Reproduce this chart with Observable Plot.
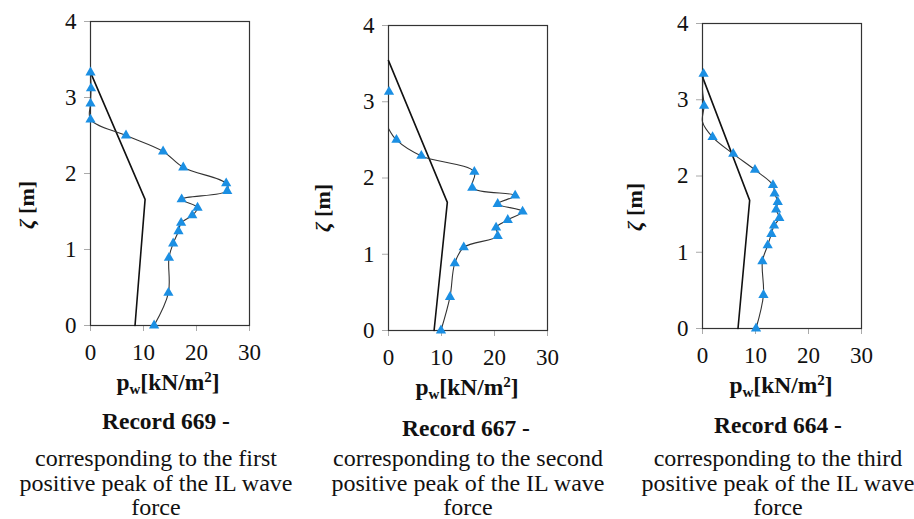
<!DOCTYPE html>
<html>
<head>
<meta charset="utf-8">
<script src="https://cdn.jsdelivr.net/npm/d3@7"></script>
<script src="https://cdn.jsdelivr.net/npm/@observablehq/plot@0.6"></script>
<style>
  html, body { margin: 0; padding: 0; background: #fff; }
  #root { position: relative; width: 914px; height: 519px; overflow: hidden; font-family: "Liberation Serif", "Times New Roman", serif; color: #111; }
  .abs { position: absolute; }
  .ctr { transform: translate(-50%, -50%); white-space: nowrap; text-align: center; }
  .xl { font-size: 23.5px; font-weight: bold; }
  .rec { font-size: 23.5px; font-weight: bold; }
  .cap { font-size: 24px; line-height: 20px; text-align: center; white-space: nowrap; transform: translateX(-50%); }
  .yl { font-size: 22px; font-weight: bold; transform: translate(-50%, -50%) rotate(-90deg); white-space: nowrap; }
  svg, svg text { font-family: "Liberation Serif", "Times New Roman", serif !important; }
</style>
</head>
<body>
<div id="root"></div>
<script>
// ---- Data ----
const xTicks = [0, 10, 20, 30];
const yTicks = [0, 1, 2, 3, 4];

// Record 669 measured pressures
const rec669_z  = [3.33, 3.12, 2.92, 2.71, 2.50, 2.29, 2.08, 1.87, 1.77, 1.66, 1.55, 1.45, 1.35, 1.24, 1.08, 0.89, 0.43, 0];
const rec669_pw = [0, 0.1, 0, 0, 6.7, 13.7, 17.5, 25.6, 25.8, 17.2, 20.2, 19.2, 17.1, 16.6, 15.6, 14.8, 14.7, 12.0];
const rec669_mark = [1,1,1,1,1,1,1,1,1,1,1,1,1,1,1,1,1,1];
const rec669_line = [1,1,1,1,1,1,1,1,1,1,1,1,1,1,1,1,1,1];
// design profile 669
const des669_z  = [3.33, 1.66, 0];
const des669_pw = [0, 10.3, 8.4];

// Record 667 measured pressures
const rec667_z  = [3.13, 2.65, 2.50, 2.29, 2.08, 1.87, 1.77, 1.66, 1.56, 1.45, 1.35, 1.24, 1.09, 0.88, 0.44, 0];
const rec667_pw = [0.1, 0, 1.5, 6.2, 16.2, 15.8, 23.9, 20.6, 25.3, 22.5, 20.3, 20.6, 14.2, 12.5, 11.6, 9.9];
const rec667_mark = [1,0,1,1,1,1,1,1,1,1,1,1,1,1,1,1];
const rec667_line = [0,1,1,1,1,1,1,1,1,1,1,1,1,1,1,1];
const des667_z  = [3.54, 1.68, 0];
const des667_pw = [0, 11.1, 8.6];

// Record 664 measured pressures
const rec664_z  = [3.34, 3.13, 2.92, 2.71, 2.51, 2.29, 2.08, 1.88, 1.77, 1.66, 1.56, 1.45, 1.35, 1.24, 1.09, 0.88, 0.44, 0];
const rec664_pw = [0.2, 0, 0.3, 0, 1.9, 5.8, 9.9, 13.3, 13.6, 14.2, 13.9, 14.5, 13.5, 13.0, 12.3, 11.3, 11.5, 10.1];
const rec664_mark = [1,0,1,0,1,1,1,1,1,1,1,1,1,1,1,1,1,1];
const rec664_line = [1,1,1,1,1,1,1,1,1,1,1,1,1,1,1,1,1,1];
const des664_z  = [3.30, 1.68, 0];
const des664_pw = [0, 8.9, 6.7];

const panels = [
  { rec: "Record 669 -", cap: ["corresponding to the first", "positive peak of the IL wave", "force"],
    z: rec669_z, pw: rec669_pw, mark: rec669_mark, line: rec669_line, dz: des669_z, dpw: des669_pw,
    L: 90, T: 21, B: 325, xl: [168, 383], rc: [166, 421], cp: 156, yl: [27, 205] },
  { rec: "Record 667 -", cap: ["corresponding to the second", "positive peak of the IL wave", "force"],
    z: rec667_z, pw: rec667_pw, mark: rec667_mark, line: rec667_line, dz: des667_z, dpw: des667_pw,
    L: 388, T: 25, B: 330, xl: [467, 388], rc: [466, 428], cp: 468, yl: [323, 208] },
  { rec: "Record 664 -", cap: ["corresponding to the third", "positive peak of the IL wave", "force"],
    z: rec664_z, pw: rec664_pw, mark: rec664_mark, line: rec664_line, dz: des664_z, dpw: des664_pw,
    L: 702, T: 23, B: 328, xl: [781, 386], rc: [778, 425], cp: 778, yl: [635, 207] }
];

const root = document.getElementById("root");
const frameW = 159;
const mL = 90, mR = 51, mT = 21, mB = 50;
const capTops = [448, 473, 497];
const serif = "Liberation Serif";

function addDiv(cls, html, x, y) {
  const d = document.createElement("div");
  d.className = "abs " + cls;
  d.innerHTML = html;
  d.style.left = x + "px";
  d.style.top = y + "px";
  root.appendChild(d);
  return d;
}

for (const p of panels) {
  const meas = p.z.map((z, i) => ({ z, pw: p.pw[i], mark: p.mark[i], line: p.line[i] }));
  const des = p.dz.map((z, i) => ({ z, pw: p.dpw[i] }));
  const innerH = p.B - p.T;
  const plot = Plot.plot({
    width: mL + frameW + mR,
    height: mT + innerH + mB,
    marginLeft: mL, marginRight: mR, marginTop: mT, marginBottom: mB,
    style: { fontFamily: serif, fontSize: "22px", color: "#111", background: "transparent", overflow: "visible" },
    x: { domain: [0, 30] },
    y: { domain: [0, 4] },
    marks: [
      Plot.axisX({ ticks: xTicks, tickFormat: d3.format("d"), tickSize: 6, tickPadding: 12, stroke: "#aaa", fill: "#111", label: null, fontSize: 23, fontFamily: serif }),
      Plot.axisY({ ticks: yTicks, tickFormat: d3.format("d"), tickSize: 6, tickPadding: 8, stroke: "#aaa", fill: "#111", label: null, fontSize: 23, fontFamily: serif }),
      Plot.frame({ stroke: "#333", strokeWidth: 1.2 }),
      Plot.line(des, { x: "pw", y: "z", stroke: "#111", strokeWidth: 1.6 }),
      Plot.line(meas.filter(d => d.line), { x: "pw", y: "z", curve: "catmull-rom", stroke: "#333", strokeWidth: 1.1 }),
      Plot.dot(meas.filter(d => d.mark), { x: "pw", y: "z", symbol: "triangle", r: 3.8, fill: "#1b8fe3", stroke: "none" })
    ]
  });
  plot.style.position = "absolute";
  plot.style.left = (p.L - mL) + "px";
  plot.style.top = (p.T - mT) + "px";
  root.appendChild(plot);

  addDiv("ctr xl", 'p<sub style="font-size:15px;vertical-align:-4px">w</sub>[kN/m<sup style="font-size:15px;vertical-align:8px">2</sup>]', p.xl[0], p.xl[1]);
  addDiv("ctr rec", p.rec, p.rc[0], p.rc[1]);
  p.cap.forEach((t, i) => addDiv("cap", t, p.cp, capTops[i]));
  addDiv("yl", '<i>ζ</i> [m]', p.yl[0], p.yl[1]);
}
</script>
</body>
</html>
